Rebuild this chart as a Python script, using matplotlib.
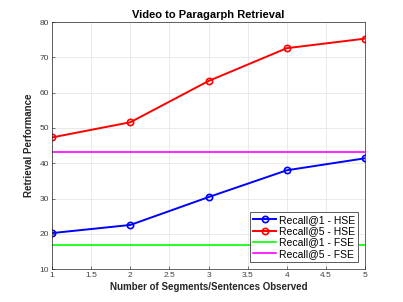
import matplotlib
matplotlib.use("Agg")
import matplotlib.pyplot as plt

x = [1, 2, 3, 4, 5]
recall1_hse = [20.2, 22.5, 30.4, 38.0, 41.4]
recall5_hse = [47.3, 51.6, 63.3, 72.6, 75.3]
recall1_fse = 16.7
recall5_fse = 43.1
labels = ["Recall@1 - HSE", "Recall@5 - HSE", "Recall@1 - FSE", "Recall@5 - FSE"]

plt.rcParams['font.family'] = ['Liberation Sans', 'DejaVu Sans']
fig = plt.figure(figsize=(4.03, 3.02), dpi=100)
ax = fig.add_axes([0.129, 0.109, 0.777, 0.818])

ax.plot(x, recall1_hse, color='#0000ff', lw=1.4, marker='o', ms=4.5, mfc='none', mew=1.2, label=labels[0])
ax.plot(x, recall5_hse, color='#ff0000', lw=1.4, marker='o', ms=4.5, mfc='none', mew=1.2, label=labels[1])
ax.axhline(recall1_fse, color='#00ff00', lw=1.2, label=labels[2])
ax.axhline(recall5_fse, color='#ff00ff', lw=1.2, label=labels[3])

ax.set_xlim(1, 5)
ax.set_ylim(10, 80)
ax.set_xticks([1, 1.5, 2, 2.5, 3, 3.5, 4, 4.5, 5])
ax.set_xticklabels(['1', '1.5', '2', '2.5', '3', '3.5', '4', '4.5', '5'])
ax.set_yticks([10, 20, 30, 40, 50, 60, 70, 80])
ax.grid(True, color='#e6e6e6', lw=0.6)
ax.set_axisbelow(True)
ax.tick_params(direction='in', length=2.5, labelsize=6, colors='#404040', width=0.5, pad=2)
for s in ax.spines.values():
    s.set_color('#262626')
    s.set_linewidth(0.5)

ax.set_title('Video to Paragarph Retrieval', fontsize=8, fontweight='bold', pad=3)
ax.set_xlabel('Number of Segments/Sentences Observed', fontsize=7, fontweight='bold', color='#262626', labelpad=2)
ax.set_ylabel('Retrieval Performance', fontsize=7, fontweight='bold', color='#262626', labelpad=4)

leg = ax.legend(loc='lower right', fontsize=7.5, frameon=True, fancybox=False, edgecolor='#404040',
                borderpad=0.3, labelspacing=0.12, handlelength=2.2, handletextpad=0.25,
                borderaxespad=0.7, framealpha=1)
leg.get_frame().set_linewidth(0.6)

fig.savefig('out.png', dpi=100)
